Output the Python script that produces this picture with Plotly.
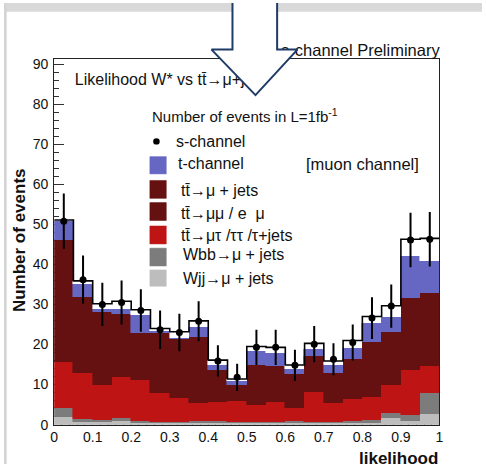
import numpy as np
import plotly.graph_objects as go

# ---- histogram contents (20 bins over likelihood 0..1), stacked bottom -> top ----
wjj_mu_jets = [2.0, 0.7, 0.6, 0.8, 0.4, 0.4, 0.4, 0.4, 0.4, 0.3,
               0.3, 0.3, 0.4, 0.3, 0.3, 0.4, 0.5, 1.6, 1.0, 2.7]
wbb_mu_jets = [2.1, 0.7, 0.6, 0.8, 0.4, 0.3, 0.3, 0.4, 0.6, 0.3,
               0.3, 0.3, 0.5, 0.3, 0.3, 0.4, 0.7, 1.3, 1.4, 5.3]
tt_mutau    = [11.6, 11.6, 8.8, 10.4, 10.3, 7.2, 6.0, 4.5, 4.6, 5.4,
               4.3, 5.1, 3.2, 7.5, 4.9, 5.5, 5.7, 7.1, 11.2, 6.6]
tt_dilep    = [3.0, 2.2, 2.0, 1.8, 1.6, 1.7, 1.6, 1.8, 1.2, 0.8,
               1.3, 1.2, 1.1, 1.3, 1.1, 1.4, 1.8, 2.0, 2.6, 2.8]
tt_mu_jets  = [27.5, 16.7, 16.2, 13.9, 10.3, 13.2, 13.0, 14.9, 6.9, 3.2,
               8.8, 7.7, 7.4, 7.7, 6.4, 8.7, 11.9, 11.2, 15.5, 15.4]
t_channel   = [4.6, 3.3, 0.8, 1.2, 4.5, 0.6, 0.4, 2.3, 1.3, 0.8,
               3.5, 3.3, 1.2, 1.9, 2.0, 2.7, 4.9, 3.6, 10.3, 8.0]
s_channel   = [0.3, 0.7, 1.2, 1.9, 1.2, 0.6, 1.5, 1.6, 1.1, 0.6,
               1.0, 1.4, 1.1, 1.3, 0.9, 1.9, 1.5, 2.9, 4.3, 5.7]

# pseudo-data points and their errors
data_points = [50.8, 36.2, 30.0, 30.5, 28.5, 23.7, 23.0, 25.8, 15.9, 11.8,
               19.3, 19.3, 14.8, 20.1, 16.3, 20.5, 26.6, 29.6, 46.1, 46.3]
data_errors = [6.9, 6.0, 5.4, 5.5, 5.3, 4.8, 4.7, 5.0, 3.9, 3.4,
               4.4, 4.4, 3.9, 4.5, 4.0, 4.5, 5.2, 5.4, 6.8, 6.8]

x_tick_vals = [0, 0.1, 0.2, 0.3, 0.4, 0.5, 0.6, 0.7, 0.8, 0.9, 1]
y_tick_vals = [0, 10, 20, 30, 40, 50, 60, 70, 80, 90]

n_bins = len(data_points)
bin_width = 1.0 / n_bins
edges = np.linspace(0.0, 1.0, n_bins + 1)
centers = edges[:-1] + bin_width / 2

W, H = 486, 472
FONT = "Liberation Sans, Arial, Helvetica, sans-serif"
INK = "#111111"

# frame of the plot area in pixels
PX0, PX1 = 51.0, 442.7
PY_TOP, PY_BOT = 57.3, 431.7

stack = [
    ("Wjj\u2192\u03bc + jets", wjj_mu_jets, "#bdbdbd"),
    ("Wbb\u2192\u03bc + jets", wbb_mu_jets, "#7c7c7c"),
    ("tt\u0304\u2192\u03bc\u03c4 /\u03c4\u03c4 /\u03c4+jets", tt_mutau, "#bf1414"),
    ("tt\u0304\u2192\u03bc\u03bc / e \u03bc", tt_dilep, "#661111"),
    ("tt\u0304\u2192\u03bc + jets", tt_mu_jets, "#661111"),
    ("t-channel", t_channel, "#6567c3"),
    ("s-channel", s_channel, "#ffffff"),
]

fig = go.Figure()

for name, vals, col in stack:
    fig.add_trace(go.Bar(
        x=centers, y=vals, width=bin_width, name=name,
        marker=dict(color=col, line=dict(color=col, width=0.6)),
        showlegend=False, xaxis="x", yaxis="y",
    ))

# outline of the full stack
total = np.sum([np.array(v) for _, v, _ in stack], axis=0)
fig.add_trace(go.Scatter(
    x=edges, y=np.append(total, total[-1]), mode="lines",
    line=dict(color="black", width=1.6, shape="hv"),
    showlegend=False, xaxis="x", yaxis="y",
))

# pseudo-data with error bars
fig.add_trace(go.Scatter(
    x=centers, y=data_points, mode="markers",
    marker=dict(color="black", size=7),
    error_y=dict(type="data", array=data_errors, color="black",
                 thickness=2, width=0),
    showlegend=False, xaxis="x", yaxis="y",
))

# ---- overlay layer in pixel coordinates: texts under the arrow, then the arrow ----
fig.add_trace(go.Scatter(
    x=[72], y=[80], mode="text",
    text=["Likelihood W* vs tt\u0304\u2192\u03bc+jets"],
    textposition="middle right",
    textfont=dict(family=FONT, size=16, color=INK),
    showlegend=False, hoverinfo="skip", xaxis="x2", yaxis="y2",
))
fig.add_trace(go.Scatter(
    x=[443], y=[50], mode="text",
    text=["s-channel Preliminary"],
    textposition="middle left",
    textfont=dict(family=FONT, size=16.5, color=INK),
    showlegend=False, hoverinfo="skip", xaxis="x2", yaxis="y2",
))

arrow_x = [232.3, 232.3, 211.0, 255.7, 298.3, 277.7, 277.7, 232.3]
arrow_y = [-4.0, 47.7, 47.7, 94.3, 47.7, 47.7, -4.0, -4.0]
fig.add_trace(go.Scatter(
    x=arrow_x, y=arrow_y, mode="lines", fill="toself",
    fillcolor="white", line=dict(color="#1f3b68", width=2),
    showlegend=False, hoverinfo="skip", xaxis="x2", yaxis="y2",
))

# ---- page background bands ----
shapes = [
    dict(type="rect", xref="paper", yref="paper", x0=0, x1=1,
         y0=1 - 9 / H, y1=1, fillcolor="#d9d9d9", line=dict(width=0),
         layer="below"),
    dict(type="rect", xref="paper", yref="paper", x0=0, x1=2.7 / W,
         y0=0, y1=1, fillcolor="#d4d4d4", line=dict(width=0),
         layer="below"),
]

# ---- hand-placed legend ----
annotations = []


def txt(x, y, s, size=16, anchor="left", bold=False, angle=0):
    annotations.append(dict(
        x=x, y=y, xref="x2", yref="y2", text=("<b>%s</b>" % s) if bold else s,
        showarrow=False, xanchor=anchor, yanchor="middle", textangle=angle,
        font=dict(family=FONT, size=size, color=INK),
    ))


txt(148, 115, "Number of events in L=1fb<sup>-1</sup>", size=15)
txt(305, 165, "[muon channel]", size=16.5)

shapes.append(dict(type="circle", xref="x2", yref="y2",
                   x0=151.7, x1=158.3, y0=138.4, y1=145.0,
                   fillcolor="black", line=dict(width=0), layer="above"))
txt(173, 141.5, "s-channel")

legend_rows = [
    ("t-channel", "#6567c3", 157.3, 175.0, 175, 164.5),
    ("tt\u0304\u2192\u03bc + jets", "#661111", 181.7, 200.0, 178, 191.7),
    ("tt\u0304\u2192\u03bc\u03bc / e  \u03bc", "#661111", 204.3, 222.7, 178, 216.0),
    ("tt\u0304\u2192\u03bc\u03c4 /\u03c4\u03c4 /\u03c4+jets", "#bf1414", 228.3, 246.7, 178, 238.3),
    ("Wbb\u2192\u03bc + jets", "#7c7c7c", 251.0, 269.3, 180, 257.7),
    ("Wjj\u2192\u03bc + jets", "#bdbdbd", 273.3, 290.0, 180, 282.3),
]
for label, col, y0, y1, tx, ty in legend_rows:
    shapes.append(dict(type="rect", xref="x2", yref="y2",
                       x0=148.3, x1=165.0, y0=y0, y1=y1,
                       fillcolor=col, line=dict(color=col, width=0.5),
                       layer="above"))
    txt(tx, ty, label)

# axis titles
txt(443, 466, "likelihood", size=17, anchor="right", bold=True)
txt(16, 243, "Number of events", size=17, anchor="center", bold=True, angle=-90)

fig.update_layout(
    width=W, height=H,
    margin=dict(l=0, r=0, t=0, b=0, pad=0),
    paper_bgcolor="white", plot_bgcolor="rgba(0,0,0,0)",
    barmode="stack", bargap=0,
    showlegend=False,
    shapes=shapes, annotations=annotations,
    xaxis=dict(
        domain=[PX0 / W, PX1 / W], range=[0, 1],
        tickvals=x_tick_vals, ticktext=[("%g" % v) for v in x_tick_vals],
        ticks="inside", ticklen=10, tickcolor="#333", tickwidth=1,
        minor=dict(ticks="inside", ticklen=5, dtick=0.02, tickcolor="#333"),
        showline=True, linecolor="#222", linewidth=1, mirror=True,
        showgrid=False, zeroline=False, layer="below traces",
        tickfont=dict(family=FONT, size=14, color=INK),
        anchor="y", fixedrange=True,
    ),
    yaxis=dict(
        domain=[1 - PY_BOT / H, 1 - PY_TOP / H], range=[0, 91.3],
        tickvals=y_tick_vals,
        ticks="inside", ticklen=10, tickcolor="#333", tickwidth=1,
        minor=dict(ticks="inside", ticklen=5, dtick=2, tickcolor="#333"),
        showline=True, linecolor="#222", linewidth=1, mirror=True,
        showgrid=False, zeroline=False, layer="below traces",
        tickfont=dict(family=FONT, size=14, color=INK),
        ticklabelstandoff=2,
        anchor="x", fixedrange=True,
    ),
    xaxis2=dict(domain=[0, 1], range=[0, W], visible=False,
                anchor="y2", fixedrange=True),
    yaxis2=dict(domain=[0, 1], range=[H, 0], visible=False,
                anchor="x2", fixedrange=True),
)

fig.write_html("out.html")
